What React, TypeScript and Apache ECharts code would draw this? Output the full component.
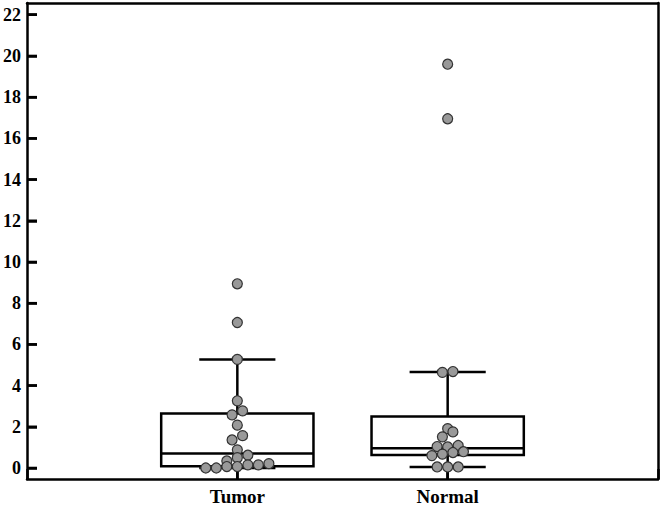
import { useEffect, useRef } from "react";
import * as echarts from "echarts";

const categories = ["Tumor", "Normal"];
const yTicks = [0, 2, 4, 6, 8, 10, 12, 14, 16, 18, 20, 22];

// box stats: [min, q1, median, q3, max]
const tumorBox = [0.0, 0.08, 0.7, 2.64, 5.27];
const normalBox = [0.05, 0.63, 0.96, 2.5, 4.66];

// dots: [value, swarm slot]
const tumorDots = [
  [8.94, 0], [7.06, 0], [5.27, 0], [3.26, 0], [2.77, 1], [2.58, -1],
  [2.08, 0], [1.57, 1], [1.36, -1], [0.88, 0], [0.62, 2], [0.5, 0],
  [0.34, -2], [0.21, 6], [0.15, 4], [0.15, 2], [0.07, 0], [0.07, -2],
  [0.0, -4], [0.0, -6],
];
const normalDots = [
  [19.6, 0], [16.95, 0], [4.68, 1], [4.64, -1], [1.91, 0], [1.75, 1],
  [1.51, -1], [1.09, 2], [1.02, 0], [1.04, -2], [0.79, 3], [0.75, 1],
  [0.67, -1], [0.6, -3], [0.05, -2], [0.05, 0], [0.05, 2],
];

const SLOT = 0.025;
const BOX_HALF = 0.362;
const CAP_HALF = 0.181;
const TICK_LEN = 10;
const FONT = "Liberation Serif";
const Y_MIN = -0.535;
const Y_MAX = 22.57;

export default function App() {
  const chartRef = useRef<HTMLDivElement>(null);

  useEffect(() => {
    if (!chartRef.current) return;
    const chart = echarts.init(chartRef.current, null, { renderer: "svg" });

    const boxData = [tumorBox, normalBox].map((b, i) => [i + 1, ...b]);
    const dotData = [tumorDots, normalDots].flatMap((dots, i) =>
      dots.map(([v, s]) => [i + 1 + s * SLOT, v])
    );

    const frameLine = () => ({ show: true, onZero: false, lineStyle: { color: "#000", width: 2.5 } });
    const innerTick = () => ({ show: true, inside: true, length: TICK_LEN, lineStyle: { color: "#000", width: 2.5 } });
    const labelFont = (size: number, margin: number) => ({
      color: "#000",
      fontFamily: FONT,
      fontWeight: "bold" as const,
      fontSize: size,
      margin,
    });

    const option: echarts.EChartsOption = {
      animation: false,
      grid: { left: 27, right: 3, top: 3, bottom: 28 },
      xAxis: [
        {
          type: "value",
          min: 0,
          max: 3,
          splitNumber: 3,
          splitLine: { show: false },
          axisLine: frameLine(),
          axisTick: innerTick(),
          axisLabel: {
            ...labelFont(19, 8),
            formatter: (v: number) => categories[v - 1] ?? "",
          },
        },
        {
          type: "value",
          position: "top",
          min: 0,
          max: 3,
          splitLine: { show: false },
          axisLine: frameLine(),
          axisTick: { show: false },
          axisLabel: { show: false },
        },
      ],
      yAxis: [
        {
          type: "value",
          min: Y_MIN,
          max: Y_MAX,
          splitNumber: 11,
          splitLine: { show: false },
          axisLine: frameLine(),
          axisTick: innerTick(),
          axisLabel: labelFont(18, 6),
        },
        {
          type: "value",
          position: "right",
          min: Y_MIN,
          max: Y_MAX,
          splitLine: { show: false },
          axisLine: frameLine(),
          axisTick: { show: false },
          axisLabel: { show: false },
        },
      ],
      series: [
        {
          type: "custom",
          z: 2,
          data: boxData,
          renderItem: (params: any, api: any) => {
            const x = api.value(0);
            const [mn, q1, md, q3, mx] = [1, 2, 3, 4, 5].map((k) => api.value(k));
            const p = (xx: number, yy: number) => api.coord([xx, yy]);
            const line = (a: number[], b: number[], w = 2.5) => ({
              type: "line",
              shape: { x1: a[0], y1: a[1], x2: b[0], y2: b[1] },
              style: { stroke: "#000", lineWidth: w, fill: "none" },
            });
            const tl = p(x - BOX_HALF, q3);
            const br = p(x + BOX_HALF, q1);
            const base = p(x, Y_MIN);
            const children: any[] = [
              // category tick rising from the bottom axis
              line(base, [base[0], base[1] - TICK_LEN]),
              line(p(x, q3), p(x, mx)),
              line(p(x, q1), p(x, mn)),
              line(p(x - CAP_HALF, mx), p(x + CAP_HALF, mx)),
              line(p(x - CAP_HALF, mn), p(x + CAP_HALF, mn)),
              {
                type: "rect",
                shape: { x: tl[0], y: tl[1], width: br[0] - tl[0], height: br[1] - tl[1] },
                style: { stroke: "#000", lineWidth: 2.5, fill: "#fff" },
              },
              line(p(x - BOX_HALF, md), p(x + BOX_HALF, md)),
            ];
            // y ticks along the left axis, drawn once with the first box
            if (params.dataIndex === 0) {
              yTicks.forEach((v) => {
                const t = p(0, v);
                children.push(line(t, [t[0] + TICK_LEN, t[1]]));
              });
            }
            return { type: "group", children };
          },
        },
        {
          type: "scatter",
          z: 5,
          data: dotData,
          symbol: "circle",
          symbolSize: 10,
          itemStyle: { color: "#999", borderColor: "#333", borderWidth: 1.2, opacity: 1 },
        },
      ],
    };
    chart.setOption(option);

    return () => {
      chart.dispose();
    };
  }, []);

  return (
    <div
      ref={chartRef}
      style={{ position: "absolute", left: 0, top: 0, width: 661, height: 507 }}
    />
  );
}
